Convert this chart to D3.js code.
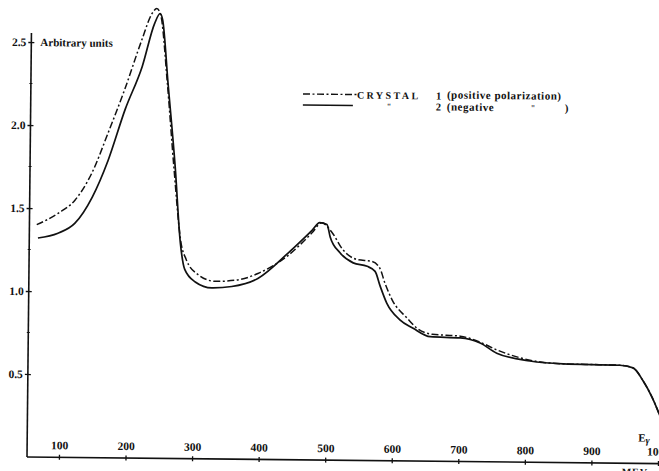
<!DOCTYPE html>
<html>
<head>
<meta charset="utf-8">
<script src="https://cdn.jsdelivr.net/npm/d3@7"></script>
<style>
  body { margin: 0; background: #fff; }
  text { font-family: "Liberation Serif", "DejaVu Serif", serif; font-weight: bold; fill: #111; }
</style>
</head>
<body>
<div id="chart"></div>
<script>
// photon energy (MeV) and yield (arbitrary units)
const energyNeg = [65, 95, 120, 146, 169, 194, 219, 237, 245, 249, 258, 270, 279, 286, 302, 327, 357, 396, 441, 477, 488, 499, 504, 519, 539, 560, 572, 580, 590, 610, 630, 656, 701, 731, 756, 806, 856, 941, 961, 976, 990, 1003];
const valueNeg  = [1.32, 1.35, 1.41, 1.57, 1.79, 2.10, 2.36, 2.62, 2.68, 2.64, 2.26, 1.76, 1.30, 1.14, 1.065, 1.03, 1.04, 1.09, 1.245, 1.385, 1.43, 1.42, 1.345, 1.25, 1.19, 1.17, 1.14, 1.05, 0.95, 0.85, 0.80, 0.75, 0.745, 0.715, 0.655, 0.61, 0.595, 0.59, 0.575, 0.50, 0.40, 0.28];

const energyPos = [63, 95, 120, 145, 169, 193, 218, 233, 240, 246, 257, 268, 280, 288, 306, 332, 366, 396, 441, 477, 491, 507, 523, 545, 567, 579, 587, 598, 621, 636, 659, 701, 731, 756, 790, 806, 856, 941, 961, 976, 990, 1003];
const valuePos  = [1.40, 1.47, 1.55, 1.715, 1.96, 2.22, 2.52, 2.68, 2.71, 2.67, 2.26, 1.76, 1.30, 1.20, 1.11, 1.07, 1.08, 1.12, 1.23, 1.37, 1.43, 1.37, 1.27, 1.21, 1.20, 1.16, 1.07, 0.97, 0.86, 0.80, 0.765, 0.755, 0.72, 0.675, 0.63, 0.615, 0.595, 0.59, 0.575, 0.50, 0.40, 0.28];

const xTicks = [100, 200, 300, 400, 500, 600, 700, 800, 900, 1000];
const yTicks = [0.5, 1.0, 1.5, 2.0, 2.5];
const yMinorTicks = [0.75, 1.25, 1.75, 2.25];

const width = 659, height = 471;
const tilt = 0.6; // the scan is slightly rotated

const svg = d3.select('#chart').append('svg')
    .attr('width', width)
    .attr('height', height);

svg.append('rect').attr('width', width).attr('height', height).attr('fill', '#fff');

const x = d3.scaleLinear().domain([52, 1000]).range([0, 631]);
const y = d3.scaleLinear().domain([0, 2.5]).range([0, -415]);

const g = svg.append('g')
    .attr('transform', `translate(27,457) rotate(${tilt})`);

// axis lines
g.append('line')
    .attr('x1', 0).attr('x2', 645).attr('y1', 0).attr('y2', 0)
    .attr('stroke', '#111').attr('stroke-width', 1.6);
g.append('line')
    .attr('x1', 0).attr('x2', 0).attr('y1', 0).attr('y2', -424)
    .attr('stroke', '#111').attr('stroke-width', 1.6);

// x axis: labels sit inside, above the line
const xAxis = g.append('g')
    .call(d3.axisTop(x).tickValues(xTicks).tickSize(3).tickPadding(5).tickFormat(d3.format('d')));
xAxis.select('.domain').remove();
xAxis.selectAll('.tick line').attr('y1', 2.5).attr('y2', -2.5).attr('stroke', '#111').attr('stroke-width', 1.3);
xAxis.selectAll('.tick text')
    .attr('font-size', 11.5).attr('font-family', '"Liberation Serif", serif').attr('font-weight', 'bold').attr('fill', '#111');

// y axis
const yAxis = g.append('g')
    .call(d3.axisLeft(y).tickValues(yTicks).tickSize(3).tickPadding(2).tickFormat(d3.format('.1f')));
yAxis.select('.domain').remove();
yAxis.selectAll('.tick line').attr('x1', -3).attr('x2', 3).attr('stroke', '#111').attr('stroke-width', 1.3);
yAxis.selectAll('.tick text')
    .attr('font-size', 11.5).attr('font-family', '"Liberation Serif", serif').attr('font-weight', 'bold').attr('fill', '#111');

g.append('g')
    .selectAll('line')
    .data(yMinorTicks)
    .enter()
    .append('line')
    .attr('x1', -1.5).attr('x2', 1.5)
    .attr('y1', d => y(d)).attr('y2', d => y(d))
    .attr('stroke', '#111').attr('stroke-width', 1);

g.append('text')
    .attr('x', 9).attr('y', y(2.5) + 4)
    .attr('font-size', 11)
    .text('Arbitrary units');

const eg = g.append('text').attr('x', 611).attr('y', -22).attr('font-size', 11);
eg.append('tspan').text('E');
eg.append('tspan').attr('dy', 2).attr('font-size', 10).attr('font-style', 'italic').text('γ');

g.append('text')
    .attr('x', 608).attr('y', 12)
    .attr('text-anchor', 'middle')
    .attr('font-size', 10)
    .attr('letter-spacing', 1)
    .text('MEV');

// curves
const line = d3.line()
    .x(d => x(d[0]))
    .y(d => y(d[1]))
    .curve(d3.curveMonotoneX);

g.append('path')
    .datum(d3.zip(energyNeg, valueNeg))
    .attr('d', line)
    .attr('fill', 'none')
    .attr('stroke', '#111')
    .attr('stroke-width', 1.7);

g.append('path')
    .datum(d3.zip(energyPos, valuePos))
    .attr('d', line)
    .attr('fill', 'none')
    .attr('stroke', '#111')
    .attr('stroke-width', 1.5)
    .attr('stroke-dasharray', '7,2.5,2,2.5');

// legend
const legend = svg.append('g')
    .attr('transform', `translate(303,94) rotate(${tilt})`);

legend.append('line')
    .attr('x1', 0).attr('x2', 54).attr('y1', 0).attr('y2', 0)
    .attr('stroke', '#111').attr('stroke-width', 1.4)
    .attr('stroke-dasharray', '7,2.5,2,2.5');
legend.append('line')
    .attr('x1', 0).attr('x2', 50).attr('y1', 11).attr('y2', 11)
    .attr('stroke', '#111').attr('stroke-width', 1.5);

legend.append('text').attr('x', 54).attr('y', 4).attr('font-size', 10).attr('letter-spacing', 2.4).text('CRYSTAL');
legend.append('text').attr('x', 133).attr('y', 4).attr('font-size', 10.5).text('1');
legend.append('text').attr('x', 144).attr('y', 3).attr('font-size', 11).attr('letter-spacing', 0.5).text('(positive polarization)');

legend.append('text').attr('x', 84).attr('y', 14).attr('font-size', 8).text('"');
legend.append('text').attr('x', 133).attr('y', 15).attr('font-size', 10.5).text('2');
legend.append('text').attr('x', 144).attr('y', 15).attr('font-size', 11).attr('letter-spacing', 0.5).text('(negative');
legend.append('text').attr('x', 228).attr('y', 14).attr('font-size', 8).text('"');
legend.append('text').attr('x', 262).attr('y', 15).attr('font-size', 11).text(')');
</script>
</body>
</html>
